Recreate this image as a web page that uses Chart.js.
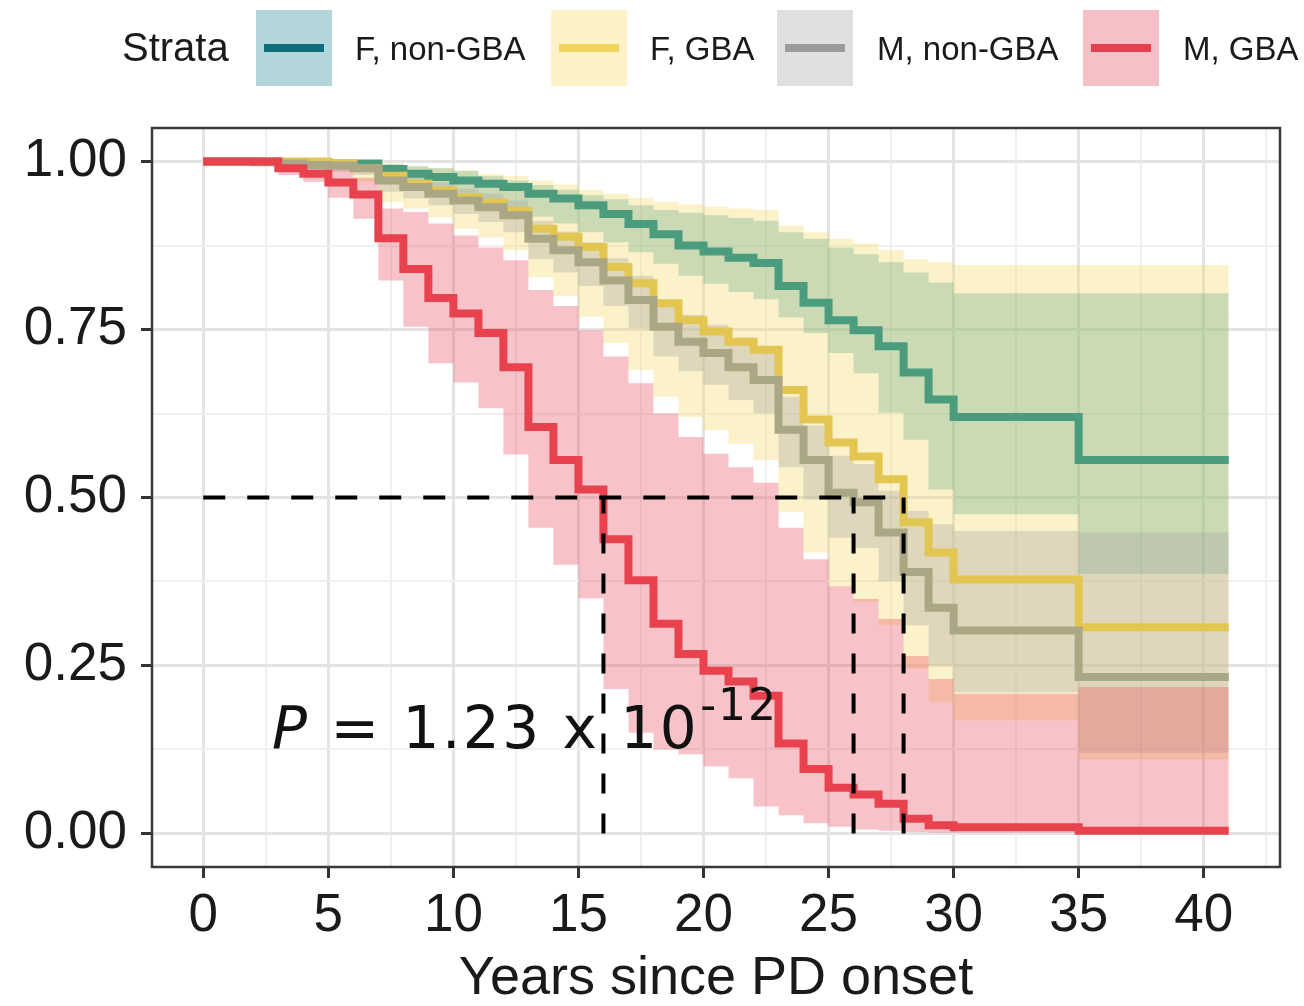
<!DOCTYPE html>
<html>
<head>
<meta charset="utf-8">
<script src="https://cdn.jsdelivr.net/npm/chart.js@4.4.1/dist/chart.umd.min.js"></script>
<style>
html,body{margin:0;padding:0;background:#fff;}
#wrap{position:relative;width:1304px;height:1006px;overflow:hidden;}
#chart{position:absolute;left:0;top:0;}
#legend{position:absolute;left:0;top:0;width:1304px;height:100px;font-family:"Liberation Sans",Arial,sans-serif;color:#1a1a1a;}
.lg-title{position:absolute;left:122px;top:27px;font-size:40px;line-height:40px;}
.key{position:absolute;top:10px;width:76px;height:76px;}
.key span{position:absolute;left:8px;right:8px;top:34px;height:8px;}
.lab{position:absolute;top:32px;font-size:33px;line-height:33px;white-space:nowrap;}
</style>
</head>
<body>
<div id="wrap">
<canvas id="chart" width="1304" height="1006"></canvas>
<div id="legend"></div>
</div>
<script>
// ---------- data ----------
const strataNames = ["F, non-GBA", "F, GBA", "M, non-GBA", "M, GBA"];
const years = [0,1,2,3,4,5,6,7,8,9,10,11,12,13,14,15,16,17,18,19,20,21,22,23,24,25,26,27,28,29,30,35,41];

const survFnon = [1,1,1,0.999,0.999,0.997,0.997,0.989,0.982,0.977,0.972,0.967,0.962,0.952,0.945,0.935,0.922,0.907,0.892,0.875,0.866,0.857,0.849,0.815,0.79,0.764,0.749,0.725,0.686,0.646,0.62,0.556,0.556];
const upperFnon = [1,1,1,1,1,1,1,0.996,0.993,0.99,0.986,0.978,0.972,0.965,0.958,0.95,0.944,0.935,0.928,0.924,0.92,0.916,0.912,0.895,0.885,0.872,0.862,0.85,0.835,0.82,0.804,0.804,0.804];
const lowerFnon = [1,1,1,1,1,1,0.995,0.975,0.965,0.958,0.95,0.94,0.93,0.918,0.908,0.895,0.88,0.865,0.848,0.83,0.818,0.806,0.795,0.768,0.745,0.715,0.685,0.626,0.586,0.512,0.475,0.386,0.386];

const survFgba = [1,1,1,1,1,0.997,0.99,0.979,0.967,0.957,0.947,0.939,0.927,0.90,0.888,0.873,0.843,0.819,0.789,0.764,0.747,0.732,0.72,0.66,0.616,0.582,0.561,0.527,0.463,0.418,0.378,0.307,0.307];
const upperFgba = [1,1,1,1,1,1,1,0.997,0.993,0.99,0.987,0.982,0.978,0.972,0.966,0.958,0.952,0.946,0.94,0.936,0.933,0.93,0.928,0.905,0.895,0.885,0.878,0.868,0.855,0.85,0.846,0.846,0.846];
const lowerFgba = [1,1,1,1,1,0.988,0.97,0.94,0.93,0.917,0.90,0.887,0.868,0.828,0.80,0.769,0.73,0.69,0.65,0.62,0.60,0.58,0.556,0.478,0.418,0.368,0.345,0.31,0.245,0.196,0.168,0.11,0.11];

const survMnon = [1,1,0.999,0.997,0.995,0.994,0.99,0.972,0.962,0.952,0.942,0.932,0.92,0.885,0.868,0.85,0.823,0.794,0.754,0.732,0.715,0.694,0.675,0.601,0.556,0.507,0.493,0.448,0.389,0.336,0.302,0.233,0.233];
const upperMnon = [1,1,1,1,0.999,0.999,0.997,0.985,0.977,0.969,0.96,0.952,0.942,0.912,0.896,0.88,0.856,0.83,0.792,0.772,0.757,0.738,0.72,0.65,0.607,0.562,0.55,0.51,0.48,0.46,0.45,0.448,0.448];
const lowerMnon = [1,1,1,0.99,0.988,0.985,0.98,0.955,0.945,0.935,0.922,0.91,0.895,0.855,0.835,0.815,0.785,0.752,0.71,0.688,0.668,0.645,0.625,0.545,0.497,0.44,0.425,0.375,0.31,0.25,0.21,0.12,0.12];

const survMgba = [1,1,1,0.99,0.982,0.969,0.951,0.886,0.84,0.797,0.774,0.745,0.694,0.605,0.556,0.512,0.438,0.377,0.312,0.267,0.242,0.226,0.205,0.134,0.096,0.068,0.058,0.044,0.022,0.012,0.009,0.004,0.004];
const upperMgba = [1,1,1,1,0.998,0.992,0.976,0.93,0.925,0.908,0.89,0.872,0.853,0.809,0.785,0.749,0.71,0.67,0.625,0.59,0.565,0.545,0.522,0.455,0.408,0.368,0.349,0.319,0.264,0.23,0.208,0.218,0.218];
const lowerMgba = [1,1,1,0.98,0.97,0.946,0.915,0.823,0.754,0.70,0.671,0.633,0.564,0.455,0.40,0.35,0.215,0.15,0.125,0.118,0.10,0.082,0.04,0.027,0.015,0.01,0.006,0.004,0.002,0.001,0.001,0,0];

const medianYears = [16, 26, 28];
const medianLevel = 0.5;
const xMajorTicks = [0,5,10,15,20,25,30,35,40];
const yMajorTicks = [0,0.25,0.5,0.75,1];
const pValueText = {lead: "P", body: " = 1.23 x 10", exp: "-12", at: [2.75, 0.127]};

// ---------- styles ----------
const lineColors = ["#4a9c7c", "#e3c652", "#aba684", "#e8424f"];
const bandColors = ["rgba(106,176,144,0.35)", "rgba(246,218,100,0.35)", "rgba(165,165,164,0.35)", "rgba(232,84,101,0.35)"];
const legendBox = ["#b3d6da", "#fdf2c7", "#dfdfdf", "#f6c1c6"];
const legendLine = ["#0f6e7c", "#f1d35c", "#9b9b9b", "#e6404e"];
const legendBoxX = [256, 551, 777, 1083];
const legendLabX = [355, 650, 877, 1183];

// ---------- legend (HTML) ----------
const lg = document.getElementById('legend');
lg.innerHTML = '<div class="lg-title">Strata</div>' + strataNames.map((n,i) =>
  `<div class="key" style="left:${legendBoxX[i]}px;background:${legendBox[i]}"><span style="background:${legendLine[i]}"></span></div>` +
  `<div class="lab" style="left:${legendLabX[i]}px">${n}</div>`).join('');

// ---------- datasets ----------
const pts = arr => years.map((t,i) => ({x:t, y:arr[i]}));
const survs = [survFnon, survFgba, survMnon, survMgba];
const uppers = [upperFnon, upperFgba, upperMnon, upperMgba];
const lowers = [lowerFnon, lowerFgba, lowerMnon, lowerMgba];
const bandOrder = [30, 40, 20, 10];
const STEP = 'before'; // horizontal first, then vertical drop at the next time

const datasets = [];
// ribbons
[1,0,2,3].forEach(i => {
  datasets.push({label: strataNames[i]+' upper', data: pts(uppers[i]), stepped:STEP, borderWidth:0, pointRadius:0, fill:false, order: bandOrder[i]});
  datasets.push({label: strataNames[i]+' lower', data: pts(lowers[i]), stepped:STEP, borderWidth:0, pointRadius:0, fill:'-1', backgroundColor: bandColors[i], order: bandOrder[i]});
});
// survival curves
[0,1,2,3].forEach(i => {
  datasets.push({label: strataNames[i], data: pts(survs[i]), stepped:STEP, borderColor: lineColors[i], borderWidth: 8, pointRadius:0, fill:false, order: 5 - i, borderJoinStyle:'miter', borderCapStyle:'butt'});
});
// median dashed lines
const lastMedian = Math.max(...medianYears);
datasets.push({label:'median h', data:[{x:0,y:medianLevel},{x:lastMedian,y:medianLevel}], borderColor:'#000', borderWidth:4, borderDash:[22,22], pointRadius:0, fill:false, order:0});
medianYears.forEach(m => {
  datasets.push({label:'median v'+m, data:[{x:m,y:0},{x:m,y:medianLevel}], borderColor:'#000', borderWidth:4, borderDash:[20,20], pointRadius:0, fill:false, order:0});
});

// ---------- plugins ----------
const panelBorder = {
  id:'panelBorder',
  afterDraw(chart){
    const {ctx, chartArea:a} = chart;
    ctx.save();
    ctx.strokeStyle = '#3a3a3a'; ctx.lineWidth = 2.5;
    ctx.strokeRect(a.left, a.top, a.right - a.left, a.bottom - a.top);
    ctx.restore();
  }
};
const pLabel = {
  id:'pLabel',
  afterDatasetsDraw(chart){
    const {ctx, scales:{x, y}} = chart;
    const px = x.getPixelForValue(pValueText.at[0]);
    const py = y.getPixelForValue(pValueText.at[1]);
    ctx.save();
    ctx.fillStyle = '#111'; ctx.textAlign = 'left'; ctx.textBaseline = 'alphabetic';
    ctx.letterSpacing = '2.5px';
    ctx.font = 'italic 58px "DejaVu Sans"';
    ctx.fillText(pValueText.lead, px, py);
    let w = ctx.measureText(pValueText.lead).width;
    ctx.font = '58px "DejaVu Sans"';
    ctx.fillText(pValueText.body, px + w, py);
    w += ctx.measureText(pValueText.body).width;
    ctx.letterSpacing = '2px';
    ctx.font = '44px "DejaVu Sans"';
    ctx.fillText(pValueText.exp, px + w + 1, py - 28);
    ctx.restore();
  }
};

const minorStep = (arr) => { const out = []; for (let i = 0; i < arr.length; i++) { out.push(arr[i]); if (i < arr.length - 1) out.push((arr[i] + arr[i+1]) / 2); } return out; };
const xAllTicks = minorStep(xMajorTicks).concat([42.5]);
const yAllTicks = minorStep(yMajorTicks);
const isMajor = (v, majors) => majors.some(m => Math.abs(m - v) < 1e-9);

new Chart(document.getElementById('chart'), {
  type: 'line',
  data: { datasets },
  options: {
    responsive: false,
    devicePixelRatio: 1,
    animation: false,
    events: [],
    layout: { padding: { top: 128, right: 24, left: 0, bottom: 0 } },
    plugins: { legend: { display: false }, tooltip: { enabled: false } },
    scales: {
      x: {
        type: 'linear', min: -2.05, max: 43.05,
        afterBuildTicks: s => { s.ticks = xAllTicks.map(v => ({value: v})); },
        afterFit: s => { s.height = 139; },
        border: { display: false },
        grid: {
          color: c => isMajor(c.tick.value, xMajorTicks) ? '#e4e4e4' : '#f0f0f0',
          lineWidth: c => isMajor(c.tick.value, xMajorTicks) ? 3 : 2,
          tickColor: c => isMajor(c.tick.value, xMajorTicks) ? '#333' : 'rgba(0,0,0,0)',
          tickLength: 11, tickWidth: 3
        },
        ticks: {
          autoSkip: false, maxRotation: 0, padding: 7,
          color: '#1a1a1a',
          font: { family: '"Liberation Sans", Arial, sans-serif', size: 53, lineHeight: 1.2 },
          callback: v => isMajor(v, xMajorTicks) ? String(v) : ''
        },
        title: {
          display: true, text: 'Years since PD onset', color: '#1a1a1a',
          font: { family: '"Liberation Sans", Arial, sans-serif', size: 54, lineHeight: 1 },
          padding: { top: 0, bottom: 0 }
        }
      },
      y: {
        type: 'linear', min: -0.05, max: 1.05,
        afterBuildTicks: s => { s.ticks = yAllTicks.map(v => ({value: v})); },
        afterFit: s => { s.width = 152; },
        border: { display: false },
        grid: {
          color: c => isMajor(c.tick.value, yMajorTicks) ? '#e4e4e4' : '#f0f0f0',
          lineWidth: c => isMajor(c.tick.value, yMajorTicks) ? 3 : 2,
          tickColor: c => isMajor(c.tick.value, yMajorTicks) ? '#333' : 'rgba(0,0,0,0)',
          tickLength: 11, tickWidth: 3
        },
        ticks: {
          autoSkip: false, padding: 14,
          color: '#1a1a1a',
          font: { family: '"Liberation Sans", Arial, sans-serif', size: 53, lineHeight: 1.2 },
          callback: v => isMajor(v, yMajorTicks) ? v.toFixed(2) : ''
        }
      }
    }
  },
  plugins: [pLabel, panelBorder]
});
</script>
</body>
</html>
